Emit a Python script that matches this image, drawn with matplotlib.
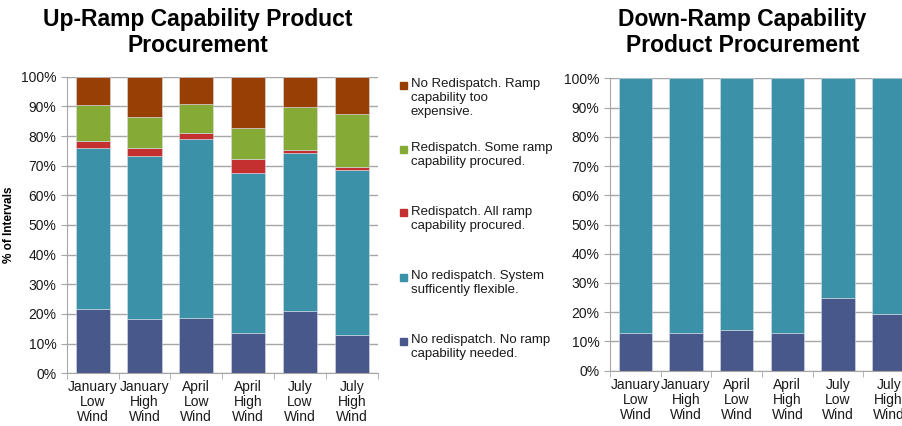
import matplotlib.pyplot as plt
import matplotlib.patches as mpatches
from matplotlib.ticker import PercentFormatter

plt.rcParams["font.family"] = ["Liberation Sans", "DejaVu Sans"]

categories = ["January\nLow\nWind", "January\nHigh\nWind", "April\nLow\nWind",
              "April\nHigh\nWind", "July\nLow\nWind", "July\nHigh\nWind"]

# up-ramp shares (% of intervals), bottom to top
up_no_need = [21.6, 18.2, 18.5, 13.7, 20.9, 13.0]
up_flexible = [54.3, 55.2, 60.5, 53.7, 53.4, 55.4]
up_all_procured = [2.4, 2.5, 1.9, 4.7, 1.0, 1.3]
up_some_procured = [12.2, 10.4, 9.8, 10.6, 14.6, 17.7]
up_too_expensive = [9.5, 13.7, 9.3, 17.3, 10.1, 12.6]

# down-ramp shares
down_no_need = [12.8, 12.8, 13.8, 12.8, 24.8, 19.3]
down_flexible = [87.2, 87.2, 86.2, 87.2, 75.2, 80.7]

labels = ["No redispatch. No ramp\ncapability needed.",
          "No redispatch. System\nsufficently flexible.",
          "Redispatch. All ramp\ncapability procured.",
          "Redispatch. Some ramp\ncapability procured.",
          "No Redispatch. Ramp\ncapability too\nexpensive."]
colors = ["#48588a", "#3a91a8", "#c3302f", "#86aa36", "#983f06"]

grid_col = "#a6a6a6"
txt_col = "#1a1a1a"


def style_axes(ax):
    ax.set_xlim(-0.5, len(categories) - 0.5)
    ax.set_ylim(0, 100)
    ax.set_yticks(range(0, 101, 10))
    ax.yaxis.set_major_formatter(PercentFormatter(decimals=0))
    ax.set_xticks(range(len(categories)))
    ax.set_xticklabels(categories, fontsize=10, color=txt_col, linespacing=1.1)
    ax.set_xticks([i - 0.5 for i in range(len(categories) + 1)], minor=True)
    ax.tick_params(axis="x", which="major", length=0, pad=5)
    ax.tick_params(axis="x", which="minor", length=4, color=grid_col)
    ax.tick_params(axis="y", length=4, color=grid_col, labelsize=10, labelcolor=txt_col)
    ax.grid(axis="y", color=grid_col, linewidth=1)
    ax.set_axisbelow(True)
    for s in ["top", "right"]:
        ax.spines[s].set_visible(False)
    for s in ["left", "bottom"]:
        ax.spines[s].set_color(grid_col)


fig = plt.figure(figsize=(9.03, 4.26), dpi=100)

ax1 = fig.add_axes([0.0739, 0.1237, 0.3444, 0.6963])
x = range(len(categories))
bottom = [0] * len(categories)
for vals, c in zip([up_no_need, up_flexible, up_all_procured, up_some_procured,
                    up_too_expensive], colors):
    ax1.bar(x, vals, bottom=bottom, width=0.66, color=c, edgecolor="#d8dde8", linewidth=0.4)
    bottom = [b + v for b, v in zip(bottom, vals)]
style_axes(ax1)
ax1.set_ylabel("% of Intervals", fontsize=8.5, fontweight="bold")
ax1.yaxis.set_label_coords(-0.166, 0.5)

ax2 = fig.add_axes([0.6755, 0.1298, 0.3367, 0.6864])
bottom = [0] * len(categories)
for vals, c in zip([down_no_need, down_flexible], colors[:2]):
    ax2.bar(x, vals, bottom=bottom, width=0.66, color=c, edgecolor="#d8dde8", linewidth=0.4)
    bottom = [b + v for b, v in zip(bottom, vals)]
style_axes(ax2)

fig.text(0.219, 1 - 8 / 426, "Up-Ramp Capability Product\nProcurement", ha="center", va="top",
         fontsize=16.5, fontweight="bold", linespacing=1.15)
fig.text(0.822, 1 - 8 / 426, "Down-Ramp Capability\nProduct Procurement", ha="center", va="top",
         fontsize=16.5, fontweight="bold", linespacing=1.15)

# legend, top entry first
W, H = 903, 426
for i, (lab, c) in enumerate(zip(labels[::-1], colors[::-1])):
    ytop = 85 + i * 64
    fig.patches.append(mpatches.Rectangle((400 / W, 1 - (ytop + 3.5) / H), 7 / W, 7 / H,
                                          transform=fig.transFigure, color=c))
    fig.text(411 / W, 1 - (ytop - 7) / H, lab, ha="left", va="top", fontsize=9.5,
             color=txt_col, linespacing=1.2)

fig.savefig("out.png", dpi=100)
